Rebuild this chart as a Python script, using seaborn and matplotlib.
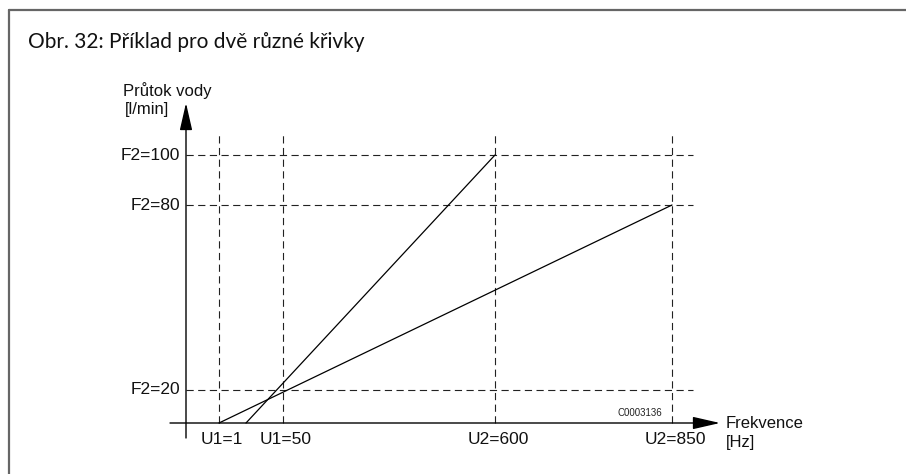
import matplotlib
matplotlib.use("Agg")
import matplotlib.pyplot as plt
import pandas as pd
import seaborn as sns
from matplotlib.lines import Line2D

title = "Obr. 32: Příklad pro dvě různé křivky"
y_axis_name = "Průtok vody"
y_axis_unit = "[l/min]"
x_axis_name = "Frekvence"
x_axis_unit = "[Hz]"
code_label = "C0003136"

# schematic positions of the reference levels (origin at the axes crossing)
x_levels = ["U1=1", "U1=50", "U2=600", "U2=850"]
x_level_pos = [33, 97, 309, 486]
y_levels = ["F2=20", "F2=80", "F2=100"]
y_level_pos = [33, 218, 268]

# the two characteristic curves: start on the frequency axis, end at (U2, F2)
curve_names = ["Křivka 1", "Křivka 2"]
curve_x = [[33, 486], [60, 309]]
curve_y = [[0, 218], [0, 268]]

sns.set_theme(style="white")
plt.rcParams["font.family"] = ["Liberation Sans", "DejaVu Sans"]

W, H = 906, 474
fig = plt.figure(figsize=(W / 100, H / 100), dpi=100)
ax = fig.add_axes([0, 0, 1, 1])

rows = []
for name, xs, ys in zip(curve_names, curve_x, curve_y):
    for xv, yv in zip(xs, ys):
        rows.append({"curve": name, "x": xv, "y": yv})
df = pd.DataFrame(rows)

sns.lineplot(data=df, x="x", y="y", hue="curve", palette=["black", "black"],
             legend=False, ax=ax, linewidth=0.9, zorder=4)

ax.set_xlim(-186, W - 186)
ax.set_ylim(-(H - 423), 423)
ax.axis("off")

# dashed reference grid
dash = (0, (6.5, 4))
ax.hlines(y_level_pos, 0, 507, colors="#222222", linestyles=dash, linewidth=0.8)
ax.vlines(x_level_pos, 0, 288, colors="#222222", linestyles=dash, linewidth=0.8)

# axes with arrow heads
arrow = dict(arrowstyle="-|>,head_length=1.4,head_width=0.32", color="black",
             lw=1.0, shrinkA=0, shrinkB=0)
ax.annotate("", xy=(534, 0), xytext=(-16, 0), arrowprops=arrow)
ax.annotate("", xy=(0, 320), xytext=(0, -15), arrowprops=arrow)

# level labels
for lab, pos in zip(y_levels, y_level_pos):
    ax.text(-6, pos, lab, ha="right", va="center", fontsize=12.5, color="#111111")
for lab, pos in zip(x_levels, x_level_pos):
    ax.text(pos + 3, -16, lab, ha="center", va="center", fontsize=12.5, color="#111111")

# axis names
ax.text(-63, 332, y_axis_name, ha="left", va="center", fontsize=12, color="#111111")
ax.text(-61, 314, y_axis_unit, ha="left", va="center", fontsize=12, color="#111111")
ax.text(540, 0, x_axis_name, ha="left", va="center", fontsize=12, color="#111111")
ax.text(540, -19, x_axis_unit, ha="left", va="center", fontsize=12, color="#111111")
ax.text(454, 10, code_label, ha="center", va="center", fontsize=7, color="#222222")

# frame and title
fig.add_artist(Line2D([8.5 / W, 1], [1 - 9.5 / H, 1 - 9.5 / H],
                      transform=fig.transFigure, color="#666666", lw=1.6))
fig.add_artist(Line2D([8.5 / W, 8.5 / W], [0, 1 - 9.5 / H],
                      transform=fig.transFigure, color="#666666", lw=1.6))
fig.text(28 / W, 1 - 42 / H, title, ha="left", va="center", fontsize=15,
         family=["Lato", "DejaVu Sans"], color="#111111")

fig.savefig("out.png", dpi=100)
